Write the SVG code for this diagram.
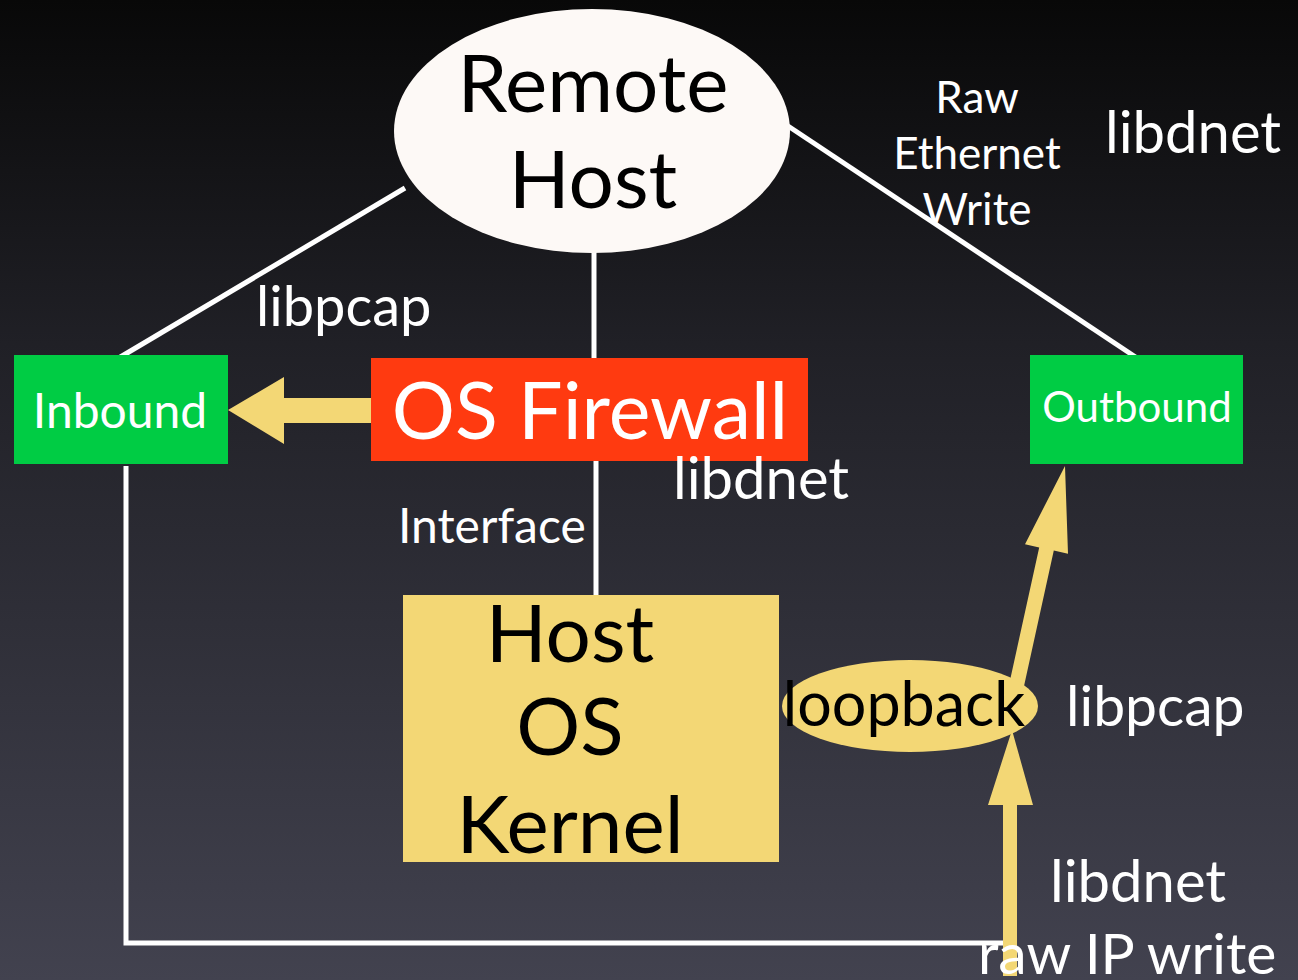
<svg xmlns="http://www.w3.org/2000/svg" width="1298" height="980" viewBox="0 0 1298 980">
<defs>
<linearGradient id="bg" x1="0" y1="0" x2="0" y2="1">
<stop offset="0" stop-color="#080808"/>
<stop offset="0.35" stop-color="#202026"/>
<stop offset="1" stop-color="#42424f"/>
</linearGradient>
<style>
text{font-family:"Lato","Open Sans","Liberation Sans",sans-serif}
.w{fill:#ffffff}
.k{fill:#000000}
.ln{stroke:#ffffff;stroke-width:5;fill:none}
.ar{fill:#f3d775}
</style>
</defs>
<rect width="1298" height="980" fill="url(#bg)"/>
<g id="connectors">
<line class="ln" x1="405" y1="188" x2="112" y2="362"/>
<line class="ln" x1="594" y1="250" x2="594" y2="358"/>
<line class="ln" x1="788" y1="126" x2="1143" y2="362"/>
<line class="ln" x1="596" y1="460" x2="596" y2="596"/>
<polyline class="ln" points="126,466 126,943 1005,943"/>
<polygon class="ar" points="378,398 284,398 284,377 228,410 284,444 284,423 378,423"/>
<polygon class="ar" points="1004.7,704.4 1039.2,547.4 1025,544.2 1065,466 1068,553.8 1053.8,550.6 1019.3,707.6"/>
<polygon class="ar" points="1003,976 1017,976 1017,805 1033,805 1012,730 988,805 1003,805"/>
</g>
<g id="remote-host">
<ellipse cx="592" cy="131" rx="198" ry="122" fill="#fdf9f6"/>
<text class="k" x="593" y="112" font-size="80" text-anchor="middle">Remote</text>
<text class="k" x="593" y="208" font-size="80" text-anchor="middle">Host</text>
</g>
<g id="inbound">
<rect x="14" y="355" width="214" height="109" fill="#00cc44"/>
<text class="w" x="120" y="428" font-size="48" text-anchor="middle">Inbound</text>
</g>
<g id="os-firewall">
<rect x="371" y="358" width="437" height="103" fill="#ff3a10"/>
<text class="w" x="590" y="439" font-size="79" text-anchor="middle">OS Firewall</text>
</g>
<g id="outbound">
<rect x="1030" y="355" width="213" height="109" fill="#00cc44"/>
<text class="w" x="1137" y="422" font-size="42" text-anchor="middle">Outbound</text>
</g>
<g id="host-os-kernel">
<rect x="403" y="595" width="376" height="267" fill="#f3d775"/>
<text class="k" x="570" y="662" font-size="80" text-anchor="middle">Host</text>
<text class="k" x="570" y="755" font-size="80" text-anchor="middle">OS</text>
<text class="k" x="570" y="853" font-size="80" text-anchor="middle">Kernel</text>
</g>
<g id="loopback">
<ellipse cx="910" cy="706" rx="128" ry="46" fill="#f3d775"/>
<text class="k" x="904" y="726" font-size="61" text-anchor="middle">loopback</text>
</g>
<g id="labels">
<text class="w" x="256" y="326" font-size="56">libpcap</text>
<text class="w" x="673" y="499" font-size="58">libdnet</text>
<text class="w" x="398" y="543" font-size="48">Interface</text>
<text class="w" x="977" y="113" font-size="44" text-anchor="middle">Raw</text>
<text class="w" x="977" y="169" font-size="44" text-anchor="middle">Ethernet</text>
<text class="w" x="977" y="225" font-size="44" text-anchor="middle">Write</text>
<text class="w" x="1105" y="153" font-size="58">libdnet</text>
<text class="w" x="1066" y="726" font-size="57">libpcap</text>
<text class="w" x="1050" y="902" font-size="58">libdnet</text>
<text class="w" x="978" y="974" font-size="57">raw IP write</text>
</g>
</svg>
